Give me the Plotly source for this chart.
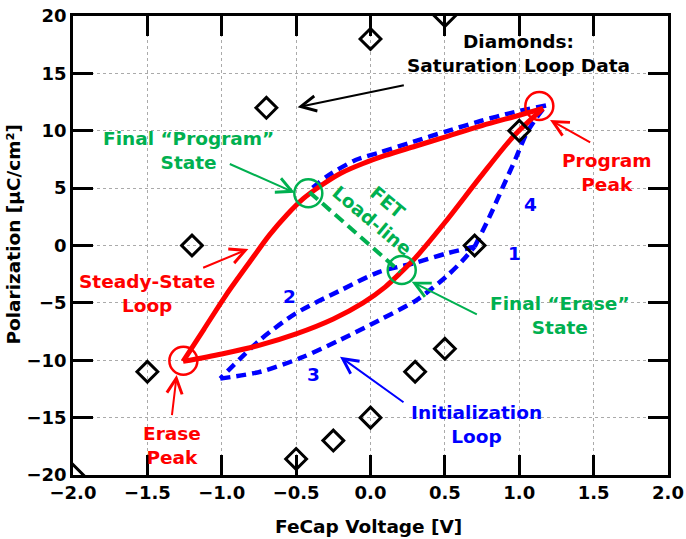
import plotly.graph_objects as go

# ---------------- data ----------------
sat_v = [-2.0, -1.5, -1.2, -0.7, 0.0, 0.5, 1.0, 0.7, 0.5, 0.3, 0.0, -0.25, -0.5]
sat_p = [-20.0, -11.0, 0.0, 12.0, 18.0, 20.0, 10.0, 0.0, -9.0, -11.0, -15.0, -17.0, -18.6]

ss_up_v = [-1.26, -1.12, -0.97, -0.81, -0.68, -0.56, -0.45, -0.33, -0.20, -0.05, 0.10, 0.30, 0.50, 0.75, 1.00, 1.16]
ss_up_p = [-10.1, -7.3, -4.3, -1.4, 0.9, 2.7, 4.1, 5.25, 6.3, 7.15, 7.85, 8.65, 9.45, 10.45, 11.35, 11.95]

ss_dn_v = [-1.26, -1.00, -0.75, -0.50, -0.25, -0.05, 0.10, 0.20, 0.30, 0.50, 0.74, 0.96, 1.16]
ss_dn_p = [-10.1, -9.45, -8.7, -7.7, -6.4, -5.0, -3.6, -2.4, -1.1, 2.0, 6.0, 9.5, 11.95]

init2_v = [0.70, 0.51, 0.29, 0.06, -0.20, -0.50, -0.74, -1.01]
init2_p = [-0.1, -0.7, -1.55, -2.3, -3.9, -5.9, -8.2, -11.6]

init3_v = [-1.01, -0.74, -0.47, -0.20, 0.06, 0.31, 0.51, 0.62, 0.70]
init3_p = [-11.6, -11.0, -9.8, -8.2, -6.5, -4.75, -2.7, -1.3, -0.1]

init4_v = [0.70, 0.80, 0.89, 0.98, 1.05, 1.12, 1.18]
init4_p = [-0.1, 2.5, 5.1, 7.7, 9.8, 11.2, 12.2]

init5_v = [1.18, 0.96, 0.74, 0.51, 0.29, 0.06, -0.10, -0.29, -0.41]
init5_p = [12.2, 11.6, 10.85, 9.95, 9.05, 8.1, 7.45, 6.05, 4.8]

load_v = [-0.41, 0.20]
load_p = [4.65, -2.3]

x_ticks = [-2.0, -1.5, -1.0, -0.5, 0.0, 0.5, 1.0, 1.5, 2.0]
y_ticks = [-20, -15, -10, -5, 0, 5, 10, 15, 20]

RED = "#FF0000"
BLUE = "#0000FF"
GREEN = "#00B050"
FONT = "DejaVu Sans"

fig = go.Figure()

for vv, pp in [(init2_v, init2_p), (init3_v, init3_p), (init4_v, init4_p), (init5_v, init5_p)]:
    fig.add_trace(go.Scatter(x=vv, y=pp, mode="lines",
                             line=dict(color=BLUE, width=4.5, dash="10px,6px", shape="spline", smoothing=0.8),
                             showlegend=False, hoverinfo="skip"))

for vv, pp in [(ss_up_v, ss_up_p), (ss_dn_v, ss_dn_p)]:
    fig.add_trace(go.Scatter(x=vv, y=pp, mode="lines",
                             line=dict(color=RED, width=5, shape="spline", smoothing=0.8),
                             showlegend=False, hoverinfo="skip"))

fig.add_trace(go.Scatter(x=load_v, y=load_p, mode="lines",
                         line=dict(color=GREEN, width=4, dash="11px,6px"),
                         showlegend=False, hoverinfo="skip"))

fig.add_trace(go.Scatter(x=sat_v, y=sat_p, mode="markers",
                         marker=dict(symbol="diamond-open", size=16, color="black",
                                     line=dict(color="black", width=3)),
                         showlegend=False, hoverinfo="skip"))

# circles (pixel-sized, anchored at data points)
def circ(cx, cy, color, r=14):
    fig.add_shape(type="circle", xref="x", yref="y", xsizemode="pixel", ysizemode="pixel",
                  xanchor=cx, yanchor=cy, x0=-r, x1=r, y0=-r, y1=r,
                  line=dict(color=color, width=2.5))

circ(-1.258, -10.04, RED)
circ(1.135, 12.16, RED)
circ(-0.418, 4.55, GREEN)
circ(0.21, -2.13, GREEN)

# text labels
def label(x, y, text, color, angle=0, size=18.5):
    fig.add_annotation(x=x, y=y, xref="x", yref="y", text=text, showarrow=False,
                       font=dict(family=FONT, size=size, color=color, weight="bold"),
                       textangle=angle, xanchor="center", yanchor="middle")

label(0.998, 16.69, "Diamonds:<br>Saturation Loop Data", "black")
label(-1.225, 8.32, "Final \u201cProgram\u201d<br>State", GREEN)
label(0.064, 3.0, "FET<br>Load-line", GREEN, angle=40)
label(-1.505, -4.21, "Steady-State<br>Loop", RED)
label(-1.336, -17.46, "Erase<br>Peak", RED)
label(1.588, 6.36, "Program<br>Peak", RED)
label(1.274, -6.06, "Final \u201cErase\u201d<br>State", GREEN)
label(0.714, -15.64, "Initialization<br>Loop", BLUE)
label(0.971, -0.68, "1", BLUE)
label(-0.546, -4.46, "2", BLUE)
label(-0.38, -11.2, "3", BLUE)
label(1.077, 3.53, "4", BLUE)

# arrows: (tail_x, tail_y, head_x, head_y, color)
def arrow(tx, ty, hx, hy, color):
    fig.add_annotation(x=hx, y=hy, ax=tx, ay=ty, xref="x", yref="y", axref="x", ayref="y",
                       text="", showarrow=True, arrowhead=5, arrowsize=1.5, arrowwidth=2,
                       arrowcolor=color, standoff=0, startstandoff=0)

arrow(0.234, 14.0, -0.49, 12.05, "black")
arrow(-0.956, 7.16, -0.508, 4.6, GREEN)
arrow(-1.135, -1.99, -0.821, -0.3, RED)
arrow(-1.336, -14.92, -1.303, -11.29, RED)
arrow(1.487, 8.91, 1.207, 10.94, RED)
arrow(0.725, -6.06, 0.277, -3.15, GREEN)
arrow(0.232, -13.75, -0.205, -9.69, BLUE)

# axis titles
fig.add_annotation(x=0.497, y=-0.113, xref="paper", yref="paper", text="FeCap Voltage [V]",
                   showarrow=False, font=dict(family=FONT, size=18.5, color="black", weight="bold"),
                   xanchor="center", yanchor="middle")
fig.add_annotation(x=-0.1, y=0.525, xref="paper", yref="paper", text="Polarization [\u00b5C/cm\u00b2]",
                   showarrow=False, textangle=-90,
                   font=dict(family=FONT, size=18.5, color="black", weight="bold"),
                   xanchor="center", yanchor="middle")

axis_common = dict(showline=True, linecolor="black", linewidth=2.5, mirror="ticks",
                   ticks="inside", ticklen=20, tickwidth=2.5, tickcolor="black",
                   showgrid=True, gridcolor="#aaaaaa", griddash="dot", gridwidth=1,
                   zeroline=False, automargin=False,
                   tickfont=dict(family=FONT, size=18, color="black", weight="bold"))

fig.update_xaxes(range=[-2, 2], tickvals=x_ticks, ticktext=[f"{v:.1f}".replace("-", "\u2212") for v in x_ticks],
                 **axis_common)
fig.update_yaxes(range=[-20, 20], tickvals=y_ticks, ticktext=[str(v).replace("-", "\u2212") for v in y_ticks],
                 **axis_common)

fig.update_layout(width=686, height=539, margin=dict(l=73, r=18, t=16, b=64, autoexpand=False),
                  paper_bgcolor="white", plot_bgcolor="white",
                  font=dict(family=FONT, color="black"))

fig.write_html("out.html", config={"displayModeBar": False},
               post_script="document.body.style.margin='0px';document.body.style.overflow='hidden';")
